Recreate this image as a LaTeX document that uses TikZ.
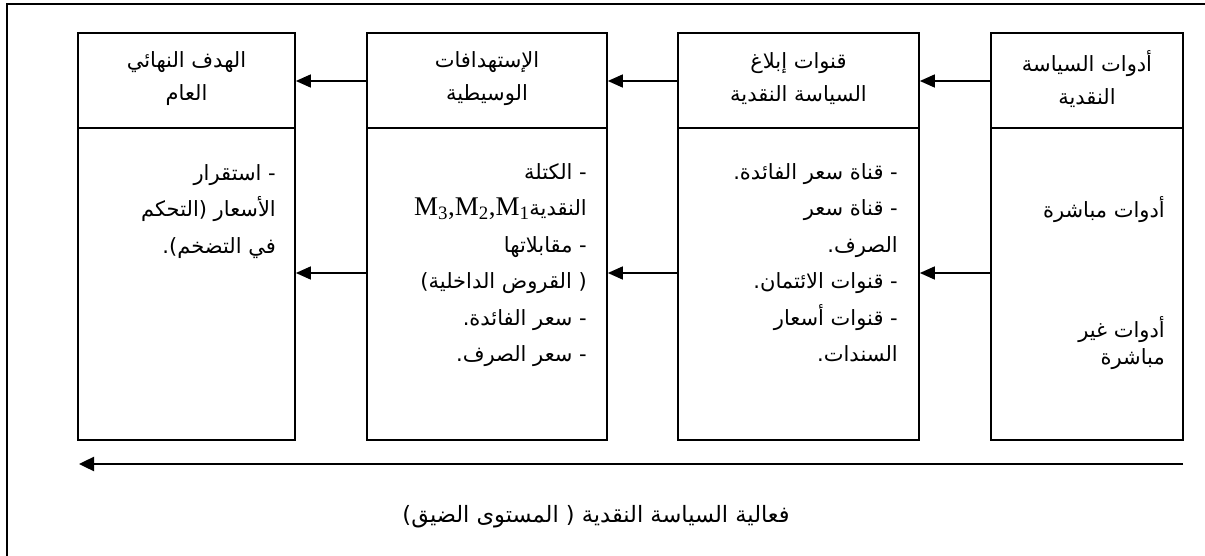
\documentclass[tikz,border=0pt]{standalone}
\usepackage{fontspec}
\usetikzlibrary{arrows.meta}
\TeXXeTstate=1
\newfontfamily\ar[Script=Arabic]{DejaVu Sans}
\newfontfamily\lat{Liberation Serif}
\newcommand{\R}[1]{\beginR #1\endR}
\tikzset{
  box/.style={draw, line width=1.7pt, rectangle, inner sep=0pt},
  arr/.style={line width=1.6pt, -{Triangle[length=15pt,width=13pt]}},
  bigarr/.style={line width=2.4pt, -{Triangle[length=15pt,width=14pt]}},
  frame/.style={line width=1.4pt},
  hdr/.style={font=\ar\fontsize{21}{33}\selectfont, align=center, inner sep=0pt},
  body/.style={font=\ar\fontsize{21}{36.5}\selectfont, align=right, inner sep=0pt, anchor=north east},
  lbl/.style={font=\ar\fontsize{22.5}{26}\selectfont, inner sep=0pt}
}
\begin{document}
\begin{tikzpicture}[x=1pt,y=-1pt]
\useasboundingbox (0,0) rectangle (1205,556);
% outer frame
\coordinate (ftr) at (1205,4);
\coordinate (ftl) at (7,4);
\coordinate (fbl) at (7,556);
\draw[frame] (ftr) -- (ftl) -- (fbl);
% boxes
\node[box, minimum width=217pt, minimum height=407pt] (b1) at (186.5,236.5) {};
\node[box, minimum width=240pt, minimum height=407pt] (b2) at (487,236.5) {};
\node[box, minimum width=241pt, minimum height=407pt] (b3) at (798.5,236.5) {};
\node[box, minimum width=192pt, minimum height=407pt] (b4) at (1087,236.5) {};
% dividers
\foreach \b in {b1,b2,b3,b4}{
  \draw[line width=1.2pt] (\b.west |- 0,128) -- (\b.east |- 0,128);
}
% connectors
\foreach \s/\t in {b2/b1,b3/b2,b4/b3}{
  \draw[arr] (\s.west |- 0,81) -- (\t.east |- 0,81);
  \draw[arr] (\s.west |- 0,273) -- (\t.east |- 0,273);
}
% bottom arrow
\coordinate (ba) at (1183,464);
\coordinate (bb) at (79,464);
\draw[bigarr] (ba) -- (bb);
% headers
\node[hdr] (h1) at (186.5,79) {\R{الهدف النهائي}\\\R{العام}};
\node[hdr] (h2) at (487,79) {\R{الإستهدافات}\\\R{الوسيطية}};
\node[hdr] (h3) at (798.5,79) {\R{قنوات إبلاغ}\\\R{السياسة النقدية}};
\node[hdr] (h4) at (1087,79) {\R{أدوات السياسة}\\\R{النقدية}};
% bodies
\node[body] (t1) at (276,164) {\R{- استقرار}\\\R{الأسعار (التحكم}\\\R{في التضخم).}};
\node[body] (t2) at (587,163) {\R{- الكتلة}\\\R{النقدية\beginL{\lat\fontsize{27}{27}\selectfont M\textsubscript{3},M\textsubscript{2},M\textsubscript{1}}\endL}\\\R{- مقابلاتها}\\\R{( القروض الداخلية)}\\\R{- سعر الفائدة.}\\\R{- سعر الصرف.}};
\node[body] (t3) at (898,163) {\R{- قناة سعر الفائدة.}\\\R{- قناة سعر}\\\R{الصرف.}\\\R{- قنوات الائتمان.}\\\R{- قنوات أسعار}\\\R{السندات.}};
\node[body] (t4a) at (1165,196) {\R{أدوات مباشرة}};
\node[body, font=\ar\fontsize{21}{27}\selectfont] (t4b) at (1165,316) {\R{أدوات غير}\\\R{مباشرة}};
% bottom label
\node[lbl] (lb) at (596,517) {\R{فعالية السياسة النقدية ( المستوى الضيق)}};
\end{tikzpicture}
\end{document}
